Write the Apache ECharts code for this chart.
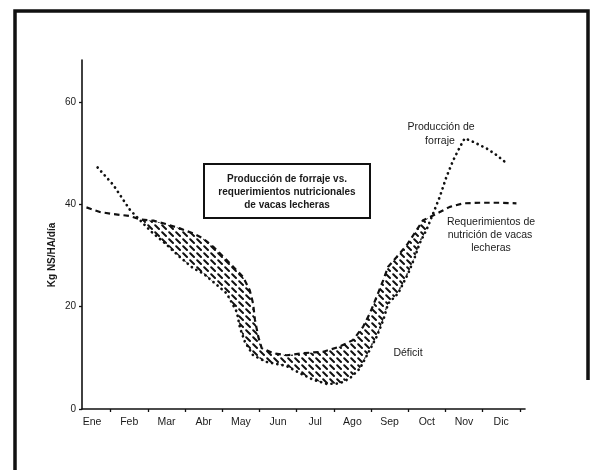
<!DOCTYPE html>
<html>
<head>
<meta charset="utf-8">
<script src="https://cdn.jsdelivr.net/npm/echarts@6/dist/echarts.min.js"></script>
<style>
html,body{margin:0;padding:0;background:#fff;}
#chart{width:593px;height:470px;}
</style>
</head>
<body>
<div id="chart"></div>
<script>
// ---- data (x in month units: 0 = start of Ene, 1 = end of Ene ...; y in Kg NS/HA/día)
const months = ['Ene','Feb','Mar','Abr','May','Jun','Jul','Ago','Sep','Oct','Nov','Dic'];
const yTicks = [0, 20, 40, 60];
const produccionX = [0.65,1.07,1.52,1.79,2.10,2.46,2.86,3.22,3.49,4.12,4.39,4.48,4.61,4.83,5.19,5.73,6.09,6.45,6.81,7.16,7.43,7.70,7.92,8.15,8.33,8.46,8.73,9.00,9.18,9.31,9.49,9.67,9.85,10.03,10.21,10.39,10.52,10.75,11.11,11.38,11.65];
const produccionY = [47.2,43.8,38.9,36.9,34.6,32.4,29.7,27.5,26.5,22.6,19.0,15.8,13.1,10.5,9.2,8.4,7.0,5.7,4.9,5.0,6.0,7.9,10.9,14.1,17.4,20.6,22.6,26.5,29.7,32.4,35.0,38.2,41.5,45.4,48.6,51.2,52.9,52.2,50.9,49.6,48.0];
const requerimientoX = [0.35,0.71,1.07,1.52,1.83,2.15,2.51,2.86,3.22,3.49,3.76,4.12,4.56,4.74,4.83,4.88,4.97,5.06,5.37,5.73,6.18,6.72,7.16,7.52,7.79,7.97,8.15,8.33,8.46,8.69,8.96,9.40,9.53,9.85,10.12,10.48,10.93,11.47,11.91];
const requerimientoY = [39.4,38.5,38.1,37.7,37.0,36.8,36.1,35.3,34.3,33.3,31.7,29.1,25.8,23.2,20.6,17.4,14.1,11.9,10.9,10.5,10.9,11.2,12.2,13.5,16.1,18.7,21.9,25.2,27.8,29.7,32.0,36.9,37.3,38.5,39.5,40.2,40.3,40.3,40.2];
const deficitStart = 1.8;   // month where requirement first exceeds production
const deficitEnd = 9.55;    // month where production catches up again

const produccion = produccionX.map((x, i) => [x, produccionY[i]]);
const requerimiento = requerimientoX.map((x, i) => [x, requerimientoY[i]]);

// hatch pattern
const tile = document.createElement('canvas');
tile.width = 7; tile.height = 7;
const tc = tile.getContext('2d');
tc.strokeStyle = '#111';
tc.lineWidth = 2;
tc.lineCap = 'round';
tc.beginPath(); tc.moveTo(1.2, 1.2); tc.lineTo(5, 5); tc.stroke();

const chart = echarts.init(document.getElementById('chart'), null, {renderer: 'canvas'});
const font = '"Liberation Sans", Arial, sans-serif';
const textCol = '#1a1a1a';

function txt(t, x, y, size, weight, rot) {
  return {
    type: 'text', x: x, y: y, rotation: rot || 0, z: 10,
    style: {
      text: t, fill: textCol,
      font: (weight || 'normal') + ' ' + size + 'px ' + font,
      textAlign: 'center', textVerticalAlign: 'middle',
      align: 'center', verticalAlign: 'middle'
    }
  };
}

const option = {
  animation: false,
  backgroundColor: '#fff',
  grid: {left: 82, right: 68, top: 60, bottom: 61, containLabel: false},
  xAxis: {
    type: 'value', min: 0.23, max: 12.14,
    splitLine: {show: false},
    axisLine: {show: true, onZero: false, lineStyle: {color: '#111', width: 1.6}},
    axisTick: {show: true, customValues: months.map((m, i) => i + 1), length: 3, lineStyle: {color: '#111', width: 1.3}},
    axisLabel: {
      customValues: months.map((m, i) => i + 0.5),
      formatter: v => months[Math.round(v - 0.5)] || '',
      color: textCol, fontFamily: font, fontSize: 10.5, margin: 8
    }
  },
  yAxis: {
    type: 'value', min: 0, max: 68.2,
    splitLine: {show: false},
    axisLine: {show: true, lineStyle: {color: '#111', width: 1.6}},
    axisTick: {show: true, customValues: yTicks, length: 3, lineStyle: {color: '#111', width: 1.3}},
    axisLabel: {customValues: yTicks, color: textCol, fontFamily: font, fontSize: 10, margin: 6}
  },
  series: [
    {
      type: 'custom', name: 'Déficit',
      data: [[deficitStart, 0]],
      silent: true, z: 1,
      renderItem: function (params, api) {
        const top = requerimiento.filter(p => p[0] >= deficitStart && p[0] <= deficitEnd);
        const bottom = produccion.filter(p => p[0] >= deficitStart && p[0] <= deficitEnd).reverse();
        const pts = top.concat(bottom).map(p => api.coord(p));
        return {
          type: 'polygon',
          shape: {points: pts},
          style: {fill: {image: tile, repeat: 'repeat'}, stroke: null}
        };
      }
    },
    {
      type: 'line', name: 'Requerimientos de nutrición de vacas lecheras',
      data: requerimiento, showSymbol: false, smooth: false, z: 3,
      lineStyle: {color: '#111', width: 2.2, type: [5.5, 4], cap: 'butt'}
    },
    {
      type: 'line', name: 'Producción de forraje',
      data: produccion, showSymbol: false, smooth: false, z: 4,
      lineStyle: {color: '#111', width: 2.7, type: [0.1, 5.2], cap: 'round'}
    }
  ],
  graphic: [
    {type: 'polyline', z: 10, shape: {points: [[15, 470], [15, 11], [588, 11], [588, 380]]},
     style: {stroke: '#111', lineWidth: 3.5, fill: null}},
    {type: 'rect', z: 9, shape: {x: 204, y: 164, width: 166, height: 54},
     style: {stroke: '#111', lineWidth: 2, fill: '#fff'}},
    txt('Producción de forraje vs.', 287, 179, 10, 'bold'),
    txt('requerimientos nutricionales', 287, 192, 10, 'bold'),
    txt('de vacas lecheras', 287, 205.5, 10, 'bold'),
    txt('Producción de', 441, 127, 10.5),
    txt('forraje', 440, 141, 10.5),
    txt('Requerimientos de', 491, 222, 10.5),
    txt('nutrición de vacas', 490, 235, 10.5),
    txt('lecheras', 491, 248, 10.5),
    txt('Déficit', 408, 353, 10.5),
    txt('Kg NS/HA/día', 52, 255, 10, 'bold', Math.PI / 2)
  ]
};
chart.setOption(option);
</script>
</body>
</html>
